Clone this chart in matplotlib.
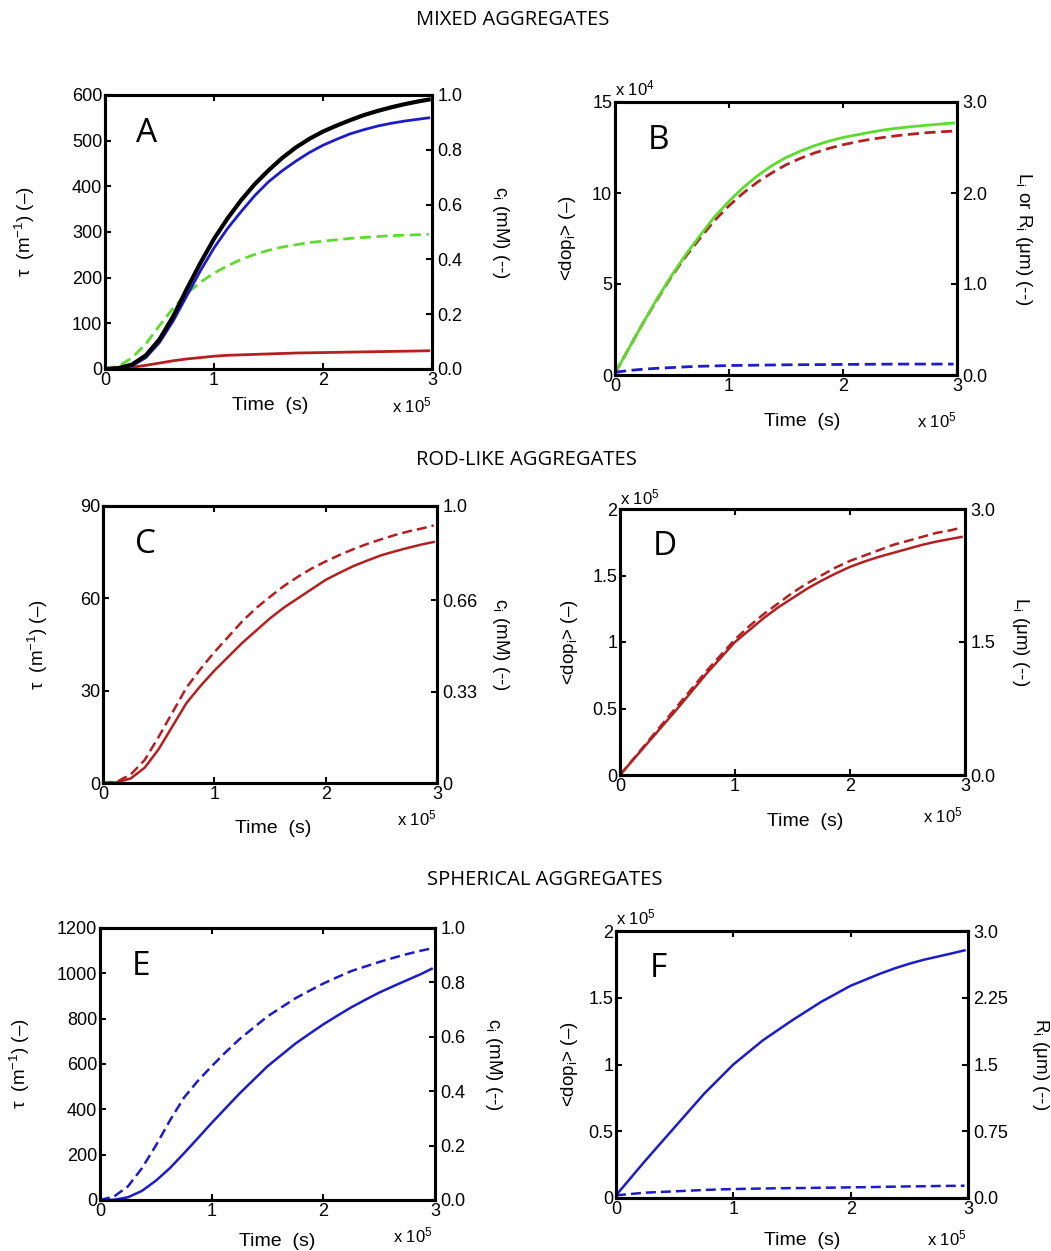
import numpy as np
import matplotlib
matplotlib.use("Agg")
import matplotlib.pyplot as plt

plt.rcParams["font.family"] = ["Liberation Sans", "DejaVu Sans"]
plt.rcParams["mathtext.fontset"] = "custom"
plt.rcParams["mathtext.rm"] = "Liberation Sans"
plt.rcParams["mathtext.it"] = "Liberation Sans"

# ---- data (time in units of 1e5 s) ----
t = [0, 0.125, 0.25, 0.375, 0.5, 0.625, 0.75, 0.875, 1.0, 1.125, 1.25, 1.375, 1.5,
     1.625, 1.75, 1.875, 2.0, 2.125, 2.25, 2.375, 2.5, 2.625, 2.75, 2.875, 2.97]

# A: mixed aggregates, turbidity / concentration
a_black = [0, 2, 10, 30, 65, 115, 175, 232, 285, 330, 370, 405, 435,
           462, 485, 504, 520, 533, 545, 556, 565, 573, 580, 586, 590]
a_blue = [0, 1, 7, 25, 58, 105, 160, 215, 265, 308, 345, 380, 410,
          434, 455, 474, 490, 503, 515, 524, 532, 538, 543, 547, 550]
a_green = [0, 6, 25, 55, 95, 133, 165, 190, 210, 226, 240, 251, 260,
           267, 272, 277, 280, 283, 286, 288, 290, 292, 293, 294, 295]
a_red = [0, 1, 4, 8, 13, 18, 22, 25, 28, 30, 31, 32, 33,
         34, 35, 35.5, 36, 36.5, 37, 37.5, 38, 38.5, 39, 39.5, 40]

# B: mixed aggregates, <dop> (x1e4)
b_green = [0.1, 1.5, 2.9, 4.25, 5.5, 6.65, 7.7, 8.7, 9.55, 10.3, 10.95, 11.5, 11.95,
           12.3, 12.6, 12.85, 13.05, 13.2, 13.35, 13.48, 13.58, 13.66, 13.73, 13.8, 13.85]
b_red = [0.1, 1.5, 2.9, 4.2, 5.45, 6.55, 7.55, 8.5, 9.3, 10.0, 10.6, 11.1, 11.55,
         11.9, 12.2, 12.45, 12.65, 12.82, 12.96, 13.07, 13.17, 13.25, 13.32, 13.37, 13.4]
b_blue = [0.15, 0.25, 0.32, 0.37, 0.41, 0.45, 0.48, 0.5, 0.52, 0.53, 0.54, 0.55, 0.56,
          0.565, 0.57, 0.575, 0.58, 0.585, 0.59, 0.595, 0.6, 0.6, 0.6, 0.6, 0.6]

# C: rod-like aggregates, turbidity / concentration
c_solid = [0, 0.2, 1.5, 5, 11, 18.5, 26, 31.5, 36.5, 41, 45.5, 49.5, 53.5,
           57, 60, 63, 66, 68.3, 70.5, 72.3, 74, 75.3, 76.5, 77.6, 78.3]
c_dash = [0, 0.4, 2.8, 7.5, 15, 23, 31, 37, 42.5, 47.5, 52.5, 56.8, 60.5,
          64, 67, 69.7, 72, 74.1, 76, 77.7, 79.2, 80.6, 81.8, 82.8, 83.7]

# D: rod-like aggregates, <dop> (x1e5)
d_solid = [0, 0.125, 0.25, 0.375, 0.5, 0.63, 0.76, 0.88, 1.0, 1.09, 1.18, 1.26, 1.33,
           1.40, 1.46, 1.515, 1.565, 1.605, 1.64, 1.67, 1.70, 1.73, 1.755, 1.775, 1.79]
d_dash = [0, 0.13, 0.26, 0.39, 0.52, 0.65, 0.78, 0.90, 1.02, 1.12, 1.21, 1.29, 1.37,
          1.44, 1.50, 1.56, 1.61, 1.65, 1.69, 1.73, 1.76, 1.79, 1.82, 1.84, 1.86]

# E: spherical aggregates, turbidity / concentration
e_solid = [0, 1, 12, 40, 85, 140, 205, 272, 340, 405, 470, 530, 590,
           640, 690, 733, 775, 813, 850, 883, 915, 943, 970, 997, 1020]
e_dash = [0, 15, 60, 140, 240, 350, 450, 525, 590, 652, 710, 760, 810,
          850, 890, 923, 955, 983, 1010, 1030, 1050, 1068, 1085, 1100, 1110]

# F: spherical aggregates, <dop> (x1e5)
f_solid = [0.02, 0.15, 0.28, 0.405, 0.53, 0.655, 0.78, 0.89, 1.0, 1.09, 1.18, 1.255, 1.33,
           1.40, 1.47, 1.53, 1.59, 1.635, 1.68, 1.72, 1.755, 1.785, 1.81, 1.835, 1.855]
f_dash = [0.02, 0.03, 0.04, 0.045, 0.05, 0.055, 0.06, 0.064, 0.067, 0.069, 0.071, 0.073, 0.074,
          0.075, 0.077, 0.078, 0.08, 0.081, 0.083, 0.085, 0.087, 0.088, 0.09, 0.091, 0.092]

BLUE = "#1c1cc8"
GREEN = "#5cdc2c"
RED = "#b3201f"
DASH = (4, 2)

W, H = 1051, 1251
fig = plt.figure(figsize=(W / 100, H / 100), dpi=100)


def fpos(x, y):
    return x / W, 1 - y / H


def make_panel(box, letter, ylim, yticks, ylabel, rticks, rlabels, rlabel,
               lab_l, lab_r, xlab, mult_bottom, mult_top=None):
    l, t_, r, b = box
    ax = fig.add_axes([l / W, 1 - b / H, (r - l) / W, (b - t_) / H])
    ax.set_xlim(0, 3)
    ax.set_ylim(*ylim)
    ax.set_xticks([0, 1, 2, 3])
    ax.set_yticks(yticks)
    ax.set_yticklabels([("%g" % v) for v in yticks])
    ax.tick_params(direction="in", length=4, width=1.5, labelsize=13,
                   top=True, pad=2)
    for s in ax.spines.values():
        s.set_linewidth(2.2)
    ax.set_ylabel(ylabel, fontsize=13.5)
    ax.yaxis.set_label_coords((lab_l - l) / (r - l), 0.5)
    ax.set_xlabel("Time  (s)", fontsize=14)
    ax.xaxis.set_label_coords((xlab[0] - l) / (r - l), -(xlab[1] - b) / (b - t_))

    ax2 = ax.twinx()
    ax2.set_ylim(0, 1)
    ax2.set_yticks(rticks)
    ax2.set_yticklabels(rlabels)
    ax2.tick_params(direction="in", length=4, width=1.5, labelsize=13, pad=4)
    ax2.set_ylabel(rlabel, fontsize=13.5, rotation=270, va="bottom")
    ax2.yaxis.set_label_coords((lab_r - l) / (r - l), 0.5)
    for s in ax2.spines.values():
        s.set_linewidth(2.2)

    ax.text(0.095, 0.86, letter, transform=ax.transAxes, fontsize=24,
            family="Open Sans", va="center", ha="left")
    x, y = fpos(*mult_bottom)
    fig.text(x, y, r"x 10$^{5}$", fontsize=12, ha="right", va="center")
    if mult_top is not None:
        x, y = fpos(*mult_top[0])
        fig.text(x, y, r"x 10$^{%s}$" % mult_top[1], fontsize=12, ha="left",
                 va="center")
    return ax


ylab_tau = r"$\tau$  (m$^{-1}$) (–)"
ylab_dop = r"<dop$_i$> (–)"

# section titles
for txt, x, y in [("MIXED AGGREGATES", 513, 20), ("ROD-LIKE AGGREGATES", 526, 460),
                  ("SPHERICAL AGGREGATES", 545, 880)]:
    x0, y0 = fpos(x, y)
    fig.text(x0, y0, txt, fontsize=14.5, family="Open Sans", ha="center",
             va="center")

# A
ax = make_panel((105, 95, 432, 369), "A", (0, 600), [0, 100, 200, 300, 400, 500, 600],
                ylab_tau, [0, 0.2, 0.4, 0.6, 0.8, 1.0],
                ["0.0", "0.2", "0.4", "0.6", "0.8", "1.0"], "c$_i$ (mM) (--)",
                37, 490, (270, 397), (432, 405))
ax.plot(t, a_red, color=RED, lw=2)
ax.plot(t, a_green, color=GREEN, lw=2, dashes=DASH)
ax.plot(t, a_blue, color=BLUE, lw=2)
ax.plot(t, a_black, color="black", lw=3)

# B
ax = make_panel((615, 102, 957, 375), "B", (0, 15), [0, 5, 10, 15],
                ylab_dop, [0, 1 / 3, 2 / 3, 1.0], ["0.0", "1.0", "2.0", "3.0"],
                r"L$_i$ or R$_i$ (μm) (--)",
                578, 1013, (802, 413), (957, 420), ((615, 88), "4"))
ax.plot(t, b_red, color=RED, lw=2, dashes=DASH)
ax.plot(t, b_green, color=GREEN, lw=2)
ax.plot(t, b_blue, color=BLUE, lw=2, dashes=DASH)

# C
ax = make_panel((103, 506, 437, 783), "C", (0, 90), [0, 30, 60, 90],
                ylab_tau, [0, 0.33, 0.66, 1.0], ["0", "0.33", "0.66", "1.0"],
                "c$_i$ (mM) (--)",
                50, 490, (273, 820), (437, 818))
ax.plot(t, c_solid, color=RED, lw=1.8)
ax.plot(t, c_dash, color=RED, lw=1.8, dashes=DASH)

# D
ax = make_panel((620, 509, 965, 775), "D", (0, 2), [0, 0.5, 1, 1.5, 2],
                ylab_dop, [0, 0.5, 1.0], ["0.0", "1.5", "3.0"],
                r"L$_i$ (μm) (--)",
                580, 1010, (805, 813), (963, 815), ((620, 497), "5"))
ax.plot(t, d_solid, color=RED, lw=1.8)
ax.plot(t, d_dash, color=RED, lw=1.8, dashes=DASH)

# E
ax = make_panel((100, 928, 435, 1200), "E", (0, 1200), [0, 200, 400, 600, 800, 1000, 1200],
                ylab_tau, [0, 0.2, 0.4, 0.6, 0.8, 1.0],
                ["0.0", "0.2", "0.4", "0.6", "0.8", "1.0"], "c$_i$ (mM) (--)",
                32, 483, (277, 1233), (433, 1235))
ax.plot(t, e_solid, color=BLUE, lw=1.8)
ax.plot(t, e_dash, color=BLUE, lw=1.8, dashes=DASH)

# F
ax = make_panel((616, 931, 968, 1198), "F", (0, 2), [0, 0.5, 1, 1.5, 2],
                ylab_dop, [0, 0.25, 0.5, 0.75, 1.0],
                ["0.0", "0.75", "1.5", "2.25", "3.0"], r"R$_i$ (μm) (--)",
                580, 1030, (802, 1232), (967, 1238), ((616, 917), "5"))
ax.plot(t, f_solid, color=BLUE, lw=1.8)
ax.plot(t, f_dash, color=BLUE, lw=1.8, dashes=DASH)

fig.savefig("out.png", dpi=100)
